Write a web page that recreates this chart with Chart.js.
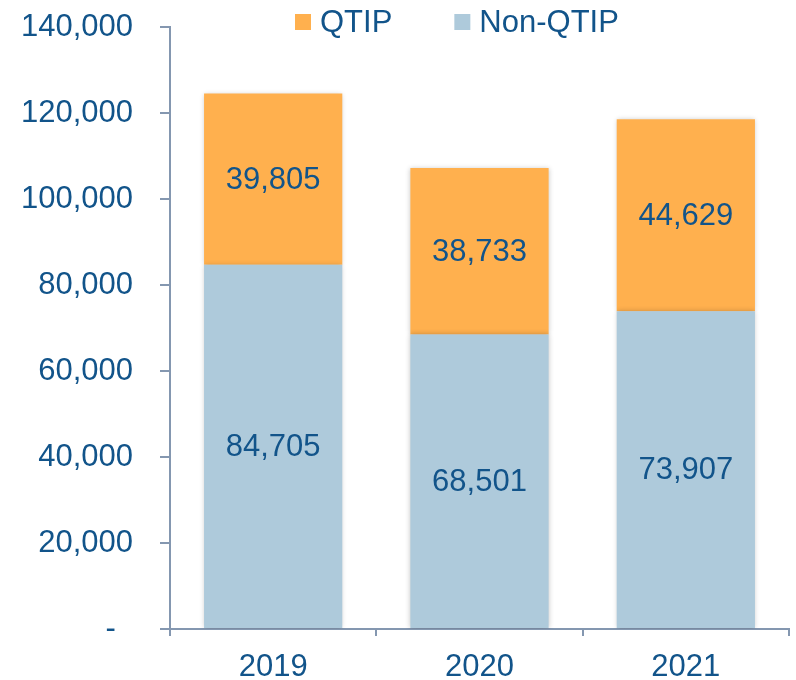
<!DOCTYPE html>
<html>
<head>
<meta charset="utf-8">
<script src="https://cdn.jsdelivr.net/npm/chart.js@4/dist/chart.umd.min.js"></script>
<style>
  body { margin: 0; background: #fff; }
</style>
</head>
<body>
<canvas id="qtipChart" width="796" height="680"></canvas>
<script>
const years = ['2019', '2020', '2021'];
const nonQtip = [84705, 68501, 73907];
const qtip = [39805, 38733, 44629];
const yTicks = [0, 20000, 40000, 60000, 80000, 100000, 120000, 140000];

const textColor = '#12548A';
const axisColor = '#8497B0';
const fontFamily = '"Liberation Sans", Arial, sans-serif';
const fontSize = 31;

// values drawn in the middle of each bar segment
const barValues = {
    id: 'barValues',
    afterDatasetsDraw(chart) {
        const ctx = chart.ctx;
        ctx.save();
        ctx.font = fontSize + 'px ' + fontFamily;
        ctx.fillStyle = textColor;
        ctx.textAlign = 'center';
        ctx.textBaseline = 'middle';
        chart.data.datasets.forEach((ds, i) => {
            chart.getDatasetMeta(i).data.forEach((bar, j) => {
                const p = bar.getProps(['x', 'y', 'base'], true);
                ctx.fillText(ds.data[j].toLocaleString('en-US'), p.x, (p.y + p.base) / 2 + 1);
            });
        });
        ctx.restore();
    }
};

// soft shadow behind the bars
const barShadow = {
    id: 'barShadow',
    beforeDatasetsDraw(chart) {
        const ctx = chart.ctx;
        ctx.save();
        ctx.shadowColor = 'rgba(0,0,0,0.22)';
        ctx.shadowBlur = 5;
    },
    afterDatasetsDraw(chart) {
        chart.ctx.restore();
    }
};

// legend sitting above the plot, QTIP first
const topLegend = {
    id: 'topLegend',
    afterDraw(chart) {
        const ctx = chart.ctx;
        const items = chart.data.datasets.slice().reverse();
        ctx.save();
        ctx.font = fontSize + 'px ' + fontFamily;
        ctx.textBaseline = 'middle';
        let x = 295;
        const y = 22;
        items.forEach(ds => {
            ctx.fillStyle = ds.backgroundColor;
            ctx.fillRect(x, y - 8, 16, 16);
            ctx.fillStyle = textColor;
            ctx.fillText(ds.label, x + 25, y + 1);
            x += 25 + ctx.measureText(ds.label).width + 62;
        });
        ctx.restore();
    }
};

new Chart(document.getElementById('qtipChart'), {
    type: 'bar',
    data: {
        labels: years,
        datasets: [
            { label: 'Non-QTIP', data: nonQtip, backgroundColor: '#AECADB' },
            { label: 'QTIP', data: qtip, backgroundColor: '#FFB04E' }
        ]
    },
    options: {
        responsive: false,
        animation: false,
        layout: { padding: { top: 27, right: 7, left: 0, bottom: 0 } },
        datasets: {
            bar: { categoryPercentage: 1, barPercentage: 0.67 }
        },
        plugins: {
            legend: { display: false },
            tooltip: { enabled: false }
        },
        scales: {
            x: {
                stacked: true,
                afterFit: s => { s.height = 51; },
                border: { color: axisColor, width: 2 },
                grid: { drawOnChartArea: false, color: axisColor, lineWidth: 2, tickLength: 7, offset: true },
                ticks: { color: textColor, padding: 13, font: { size: fontSize, family: fontFamily } }
            },
            y: {
                stacked: true,
                min: 0,
                max: 140000,
                afterFit: s => { s.width = 170; s.paddingTop = 0; s.paddingBottom = 0; },
                afterBuildTicks: s => { s.ticks = yTicks.map(v => ({ value: v })); },
                border: { color: axisColor, width: 2 },
                grid: { drawOnChartArea: false, color: axisColor, lineWidth: 2, tickLength: 10 },
                ticks: {
                    color: textColor,
                    padding: 27,
                    font: { size: fontSize, family: fontFamily },
                    callback: v => v === 0 ? '-  ' : v.toLocaleString('en-US')
                }
            }
        }
    },
    plugins: [barShadow, barValues, topLegend]
});
</script>
</body>
</html>
